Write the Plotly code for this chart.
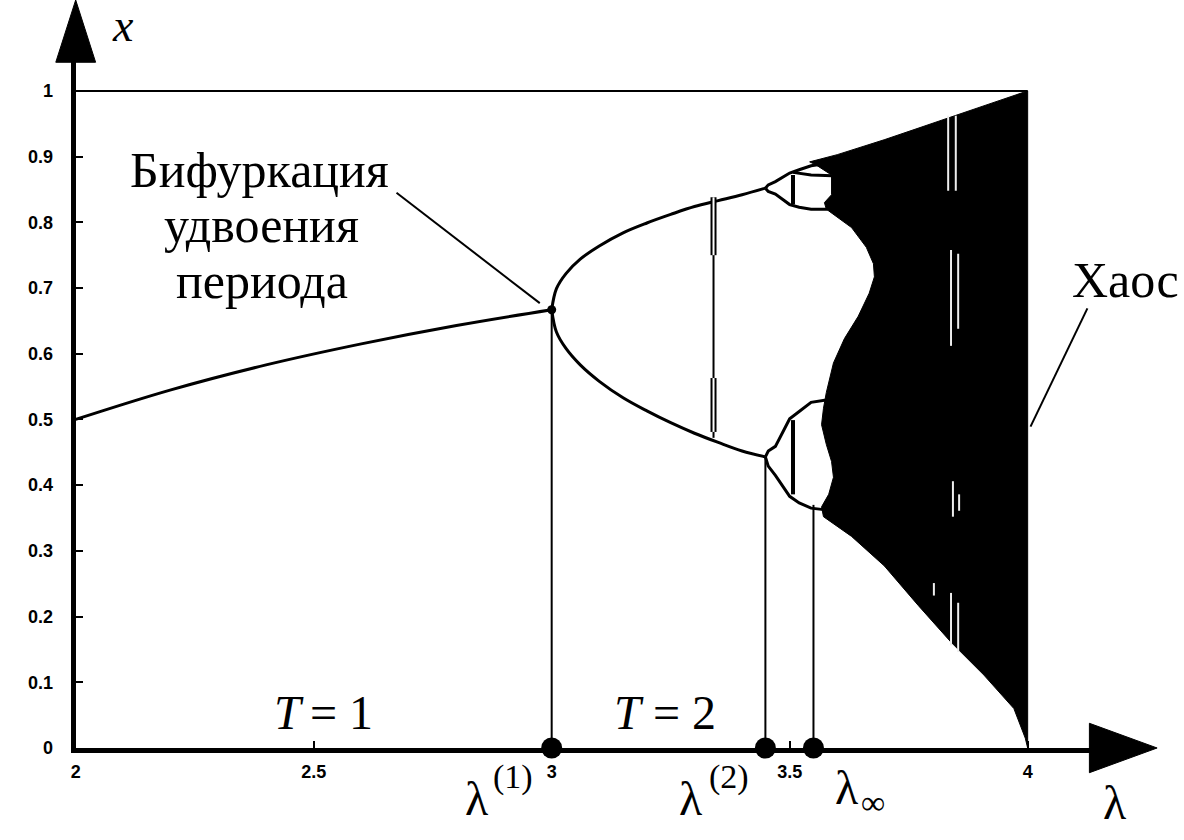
import plotly.graph_objects as go

# ---------------- data ----------------
# period-1 branch (T = 1)
p1_lam = [2.0, 2.2, 2.4, 2.6, 2.8, 3.0]
p1_x = [0.500, 0.545, 0.583, 0.615, 0.643, 0.667]

# period-2 branches (T = 2)
p2_lam = [3.0, 3.01, 3.03, 3.06, 3.10, 3.15, 3.20, 3.25, 3.30, 3.35, 3.40, 3.449]
p2_upper = [0.667, 0.699, 0.722, 0.744, 0.764, 0.784, 0.799, 0.812, 0.824, 0.833, 0.842, 0.852]
p2_lower = [0.667, 0.633, 0.608, 0.583, 0.558, 0.533, 0.513, 0.495, 0.479, 0.465, 0.452, 0.443]

# period-4 branches
p4_lam = [3.449, 3.455, 3.47, 3.50, 3.52, 3.545, 3.58]
p4_b1 = [0.852, 0.857, 0.862, 0.875, 0.880, 0.886, 0.890]
p4_b2 = [0.852, 0.847, 0.843, 0.827, 0.823, 0.820, 0.820]
p4_b3 = [0.443, 0.452, 0.459, 0.501, 0.512, 0.526, 0.530]
p4_b4 = [0.443, 0.429, 0.415, 0.383, 0.373, 0.365, 0.362]

# period-8 inner edge of the upper cell
p8_lam = [3.507, 3.545, 3.59]
p8_x = [0.876, 0.872, 0.871]

# chaotic region: upper envelope, lower envelope, inner (left) boundary
chaos_top_lam = [3.542, 3.60, 3.70, 3.80, 3.90, 4.00]
chaos_top_x = [0.892, 0.903, 0.926, 0.951, 0.975, 1.000]
chaos_bottom_lam = [4.000, 3.995, 3.971, 3.908, 3.839, 3.770, 3.699, 3.630, 3.571]
chaos_bottom_x = [0.000, 0.015, 0.060, 0.111, 0.161, 0.217, 0.277, 0.322, 0.352]
chaos_inner_lam = [3.567, 3.582, 3.592, 3.588, 3.577, 3.567, 3.571, 3.577, 3.592, 3.615,
                   3.644, 3.667, 3.678, 3.676, 3.661, 3.630, 3.577, 3.573, 3.588, 3.588, 3.556]
chaos_inner_x = [0.367, 0.386, 0.412, 0.436, 0.462, 0.492, 0.517, 0.541, 0.586, 0.623,
                 0.657, 0.692, 0.717, 0.737, 0.762, 0.792, 0.820, 0.830, 0.842, 0.872, 0.887]

# white gaps (periodic window) inside the chaotic region
gap_lam = [3.833, 3.849, 3.839, 3.854, 3.843, 3.856, 3.803, 3.839, 3.854]
gap_x0 = [0.848, 0.848, 0.612, 0.638, 0.352, 0.361, 0.232, 0.156, 0.146]
gap_x1 = [0.962, 0.962, 0.758, 0.752, 0.406, 0.386, 0.251, 0.236, 0.221]

# vertical connecting strokes seen in the drawing
art_lam = [3.34, 3.507, 3.507]
art_top = [0.838, 0.872, 0.499]
art_bottom = [0.472, 0.827, 0.386]
art_double_lam = [3.34, 3.34]
art_double_top = [0.838, 0.563]
art_double_bottom = [0.750, 0.481]

# bifurcation points lambda(1), lambda(2), lambda_inf
bif_lam = [3.0, 3.449, 3.55]
bif_x = [0.667, 0.443, 0.370]

# axis ticks
x_ticks = [2.0, 2.5, 3.0, 3.5, 4.0]
x_tick_text = ["2", "2.5", "3", "3.5", "4"]
y_ticks = [0.0, 0.1, 0.2, 0.3, 0.4, 0.5, 0.6, 0.7, 0.8, 0.9, 1.0]
y_tick_text = ["0", "0.1", "0.2", "0.3", "0.4", "0.5", "0.6", "0.7", "0.8", "0.9", "1"]

# ---------------- figure ----------------
W, H = 1184, 840
X0_PX, X1_PX = 71, 1092       # x-domain in pixels
Y0_PX, Y1_PX = 757, 62        # y-domain in pixels (bottom, top)
PX_PER_LAM = 478.0
PX_PER_X = 665.0

def px(xp):
    return xp / W

def py(yp):
    return 1 - yp / H

BLACK = "#000000"
fig = go.Figure()

# chaotic region polygon
poly_lam = chaos_top_lam + chaos_bottom_lam + chaos_inner_lam + [chaos_top_lam[0]]
poly_x = chaos_top_x + chaos_bottom_x + chaos_inner_x + [chaos_top_x[0]]
fig.add_trace(go.Scatter(x=poly_lam, y=poly_x, mode="lines", fill="toself",
                         fillcolor=BLACK, line=dict(color=BLACK, width=1),
                         hoverinfo="skip"))

# white gaps
gx, gy = [], []
for l, a, b in zip(gap_lam, gap_x0, gap_x1):
    gx += [l, l, None]
    gy += [a, b, None]
fig.add_trace(go.Scatter(x=gx, y=gy, mode="lines", line=dict(color="#eeeeee", width=2),
                         hoverinfo="skip"))

# top frame line (x = 1)
fig.add_trace(go.Scatter(x=[2.0, 4.0], y=[1.0, 1.0], mode="lines",
                         line=dict(color=BLACK, width=2), hoverinfo="skip"))

branch = dict(color=BLACK, width=3)
fig.add_trace(go.Scatter(x=p1_lam, y=p1_x, mode="lines", line=dict(branch, shape="spline")))
fig.add_trace(go.Scatter(x=p2_lam, y=p2_upper, mode="lines", line=dict(branch, shape="spline")))
fig.add_trace(go.Scatter(x=p2_lam, y=p2_lower, mode="lines", line=dict(branch, shape="spline")))
for b in (p4_b1, p4_b2, p4_b3, p4_b4):
    fig.add_trace(go.Scatter(x=p4_lam, y=b, mode="lines", line=branch))
fig.add_trace(go.Scatter(x=p8_lam, y=p8_x, mode="lines", line=branch))

# vertical strokes
ax_, ay_ = [], []
for l, a, b in zip(art_lam[:1], art_top[:1], art_bottom[:1]):
    ax_ += [l, l, None]
    ay_ += [a, b, None]
fig.add_trace(go.Scatter(x=ax_, y=ay_, mode="lines", line=dict(color=BLACK, width=2)))
bx_, by_ = [], []
for l, a, b in zip(art_lam[1:], art_top[1:], art_bottom[1:]):
    bx_ += [l, l, None]
    by_ += [a, b, None]
fig.add_trace(go.Scatter(x=bx_, y=by_, mode="lines", line=dict(color=BLACK, width=4)))
dx_, dy_ = [], []
for l, a, b in zip(art_double_lam, art_double_top, art_double_bottom):
    dx_ += [l, l, None]
    dy_ += [a, b, None]
fig.add_trace(go.Scatter(x=dx_, y=dy_, mode="lines", line=dict(color=BLACK, width=6)))
fig.add_trace(go.Scatter(x=dx_, y=dy_, mode="lines", line=dict(color="white", width=2)))

# drop lines from bifurcation points
vx, vy = [], []
for l, v in zip(bif_lam, bif_x):
    vx += [l, l, None]
    vy += [0, v, None]
fig.add_trace(go.Scatter(x=vx, y=vy, mode="lines", line=dict(color=BLACK, width=2)))

# blob at first bifurcation
fig.add_trace(go.Scatter(x=bif_lam[:1], y=bif_x[:1], mode="markers",
                         marker=dict(color=BLACK, size=9), cliponaxis=False))
# dots on the axis
fig.add_trace(go.Scatter(x=bif_lam, y=[0, 0, 0], mode="markers",
                         marker=dict(color=BLACK, size=21), cliponaxis=False))

lam_max = 2 + (X1_PX - X0_PX) / PX_PER_LAM
x_max = (Y0_PX - Y1_PX) / PX_PER_X

tickfont = dict(family="Liberation Sans", size=18, color=BLACK, weight="bold")
fig.update_layout(
    width=W, height=H,
    margin=dict(l=0, r=0, t=0, b=0),
    paper_bgcolor="white", plot_bgcolor="white",
    showlegend=False,
    xaxis=dict(domain=[px(X0_PX), px(X1_PX)], range=[2.0, lam_max],
               showgrid=False, zeroline=False, showline=True, linecolor=BLACK, linewidth=5,
               ticks="inside", ticklen=7, tickwidth=2, tickcolor=BLACK,
               tickvals=x_ticks, ticktext=x_tick_text, tickfont=tickfont,
               ticklabelstandoff=3),
    yaxis=dict(domain=[py(Y0_PX), py(Y1_PX)], range=[0.0, x_max],
               showgrid=False, zeroline=False, showline=True, linecolor=BLACK, linewidth=5,
               ticks="inside", ticklen=7, tickwidth=2, tickcolor=BLACK,
               tickvals=y_ticks, ticktext=y_tick_text, tickfont=tickfont,
               ticklabelstandoff=14),
)

# arrowheads
fig.add_shape(type="path", xref="paper", yref="paper",
              path=f"M {px(71)},{py(0)} L {px(51)},{py(63)} L {px(91)},{py(63)} Z",
              fillcolor=BLACK, line=dict(color=BLACK, width=1))
fig.add_shape(type="path", xref="paper", yref="paper",
              path=f"M {px(1157)},{py(757)} L {px(1089)},{py(732)} L {px(1089)},{py(782)} Z",
              fillcolor=BLACK, line=dict(color=BLACK, width=1))

# leader lines
fig.add_shape(type="line", xref="x", yref="y", x0=2.674, y0=0.845, x1=2.975, y1=0.677,
              line=dict(color=BLACK, width=2))
fig.add_shape(type="line", xref="x", yref="y", x0=4.1255, y0=0.669, x1=4.006, y1=0.489,
              line=dict(color=BLACK, width=2))

serif = "Liberation Serif"
def txt(text, x, y, size, style="normal"):
    fig.add_annotation(text=text, x=px(x), y=py(y), xref="paper", yref="paper",
                       showarrow=False,
                       font=dict(family=serif, size=size, color=BLACK, style=style),
                       xanchor="center", yanchor="middle")

txt("Бифуркация", 256, 172, 50)
txt("удвоения", 258, 228, 50)
txt("периода", 258, 284, 50)
txt("Хаос", 1125, 283, 50)
# T = 1, T = 2
txt("T", 285, 721, 48, "italic")
txt("= 1", 338, 721, 48)
txt("T", 627, 721, 48, "italic")
txt("= 2", 682, 721, 48)
# lambda labels
txt("λ", 474, 808, 48)
txt("(1)", 510, 786, 34)
txt("λ", 689, 808, 48)
txt("(2)", 727, 786, 34)
txt("λ", 846, 797, 48)
txt("∞", 872, 812, 34)
txt("λ", 1115, 812, 48)
txt("x", 118, 26, 46, "italic")

fig.write_html("out.html", config={"displayModeBar": False},
               post_script="document.body.style.margin='0px';")
